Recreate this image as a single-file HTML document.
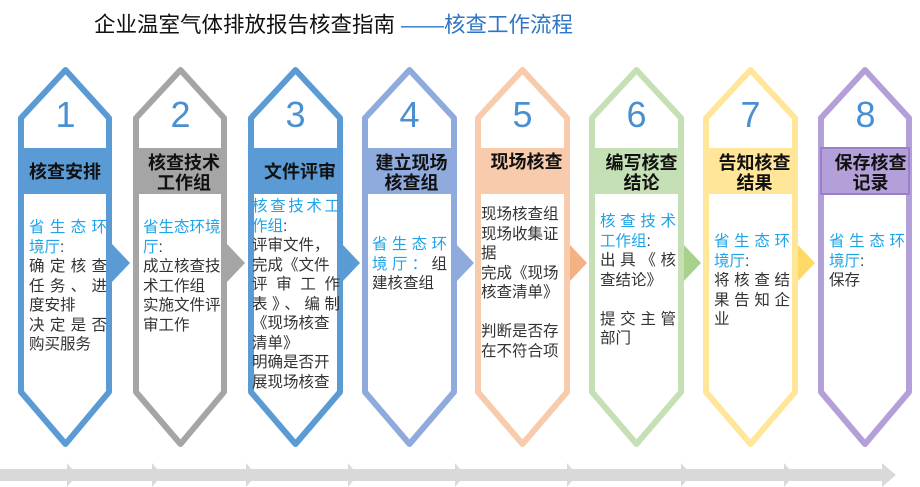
<!DOCTYPE html>
<html><head><meta charset="utf-8"><style>
body{margin:0;width:920px;height:487px;background:#fff;position:relative;overflow:hidden;font-family:"Liberation Sans","Noto Sans CJK SC",sans-serif}
.a{position:absolute}
.t{position:absolute;font-size:15.5px;line-height:19.5px;color:#333}
.t div{white-space:nowrap}
.j{text-align:justify;text-align-last:justify;white-space:normal!important}
.b{color:#1fa4e8}
.h{position:absolute;font-weight:bold;font-size:18px;line-height:20px;text-align:center;color:#111;white-space:nowrap}
.n{position:absolute;font-size:36px;color:#4a8fd0;text-align:center;width:95px;top:95px;line-height:40px}
</style></head><body>
<div class="a" style="left:94px;top:8px;font-size:21.5px;color:#111;white-space:nowrap">企业温室气体排放报告核查指南 <span style="color:#2e75c6">——核查工作流程</span></div>
<svg class="a" style="left:0;top:0" width="920" height="487">
<g stroke-linejoin="round">
<!-- bottom bar -->
<rect x="0" y="469" width="884" height="12" fill="#d9d9d9"/>
<g fill="#d9d9d9">
<polygon points="67,463 77,475 67,487"/><polygon points="152,463 162,475 152,487"/><polygon points="246,463 256,475 246,487"/><polygon points="348,463 358,475 348,487"/><polygon points="455,463 465,475 455,487"/><polygon points="567,463 577,475 567,487"/><polygon points="681,463 691,475 681,487"/><polygon points="784,463 794,475 784,487"/><polygon points="882,463 896,475 882,487"/>
</g>
<!-- arrows -->
<polygon points="112,244 130,263 112,282" fill="#5b9bd5"/>
<polygon points="227,244 245,263 227,282" fill="#a5a5a5"/>
<polygon points="342,244 360,263 342,282" fill="#5b9bd5"/>
<polygon points="456,244 474,263 456,282" fill="#8faadc"/>
<polygon points="569,244 587,263 569,282" fill="#f4b183"/>
<polygon points="683,244 701,263 683,282" fill="#a9d18e"/>
<polygon points="797,244 815,263 797,282" fill="#ffd966"/>
<!-- cards -->
<g stroke-width="6">
<path d="M65.5,70 L109,118 L109,392 L65.5,444 L21,392 L21,118 Z" fill="#fff" stroke="#5b9bd5"/>
<rect x="21" y="148" width="88" height="46" fill="#5b9bd5" stroke="none"/>
<path d="M180.5,70 L224,118 L224,392 L180.5,444 L136,392 L136,118 Z" fill="#fff" stroke="#a5a5a5"/>
<rect x="136" y="148" width="88" height="46" fill="#a5a5a5" stroke="none"/>
<path d="M295.5,70 L340,118 L340,392 L295.5,444 L251,392 L251,118 Z" fill="#fff" stroke="#5b9bd5"/>
<rect x="251" y="148" width="89" height="46" fill="#5b9bd5" stroke="none"/>
<path d="M409.5,70 L454,118 L454,392 L409.5,444 L365,392 L365,118 Z" fill="#fff" stroke="#8faadc"/>
<rect x="365" y="148" width="89" height="46" fill="#8faadc" stroke="none"/>
<path d="M522.5,70 L567,118 L567,392 L522.5,444 L478,392 L478,118 Z" fill="#fff" stroke="#f8cbad"/>
<rect x="478" y="148" width="89" height="46" fill="#f8cbad" stroke="none"/>
<path d="M636.5,70 L681,118 L681,392 L636.5,444 L592,392 L592,118 Z" fill="#fff" stroke="#c5e0b4"/>
<rect x="592" y="148" width="89" height="46" fill="#c5e0b4" stroke="none"/>
<path d="M750.5,70 L795,118 L795,392 L750.5,444 L706,392 L706,118 Z" fill="#fff" stroke="#ffe699"/>
<rect x="706" y="148" width="89" height="46" fill="#ffe699" stroke="none"/>
<path d="M865,70 L909,118 L909,392 L865,444 L821,392 L821,118 Z" fill="#fff" stroke="#b4a0d8"/>
<rect x="821" y="148" width="88" height="46" fill="#b4a0d8" stroke="#9c7fcb" stroke-width="2"/>
</g>
</g>
</svg>
<div class="n" style="left:18px">1</div>
<div class="n" style="left:133px">2</div>
<div class="n" style="left:248px">3</div>
<div class="n" style="left:362px">4</div>
<div class="n" style="left:475px">5</div>
<div class="n" style="left:589px">6</div>
<div class="n" style="left:703px">7</div>
<div class="n" style="left:818px">8</div>

<div class="h" style="left:21px;width:88px;top:162px">核查安排</div>
<div class="h" style="left:140px;width:88px;top:153px">核查技术<br>工作组</div>
<div class="h" style="left:256px;width:88px;top:162px">文件评审</div>
<div class="h" style="left:367px;width:89px;top:153px">建立现场<br>核查组</div>
<div class="h" style="left:482px;width:89px;top:152px">现场核查</div>
<div class="h" style="left:597px;width:89px;top:153px">编写核查<br>结论</div>
<div class="h" style="left:710px;width:89px;top:153px">告知核查<br>结果</div>
<div class="h" style="left:826px;width:89px;top:153px">保存核查<br>记录</div>

<div class="t" style="left:29px;top:218px;width:78px">
<div class="j b">省生态环</div><div><span class="b">境厅</span>:</div><div class="j">确定核查</div><div class="j">任务、进</div><div>度安排</div><div class="j">决定是否</div><div>购买服务</div></div>
<div class="t" style="left:143px;top:218px;width:80px">
<div class="b">省生态环境</div><div><span class="b">厅</span>:</div><div>成立核查技</div><div>术工作组</div><div>实施文件评</div><div>审工作</div></div>
<div class="t" style="left:252px;top:197px;width:88px">
<div class="j b">核查技术工</div><div><span class="b">作组</span>:</div><div>评审文件，</div><div>完成《文件</div><div class="j">评审工作</div><div class="j">表》、编制</div><div>《现场核查</div><div>清单》</div><div>明确是否开</div><div>展现场核查</div></div>
<div class="t" style="left:372px;top:235px;width:75px">
<div class="j b">省生态环</div><div class="j"><span class="b">境厅：</span>组</div><div>建核查组</div></div>
<div class="t" style="left:481px;top:205px;width:85px">
<div>现场核查组</div><div>现场收集证</div><div>据</div><div>完成《现场</div><div>核查清单》</div><div>&nbsp;</div><div>判断是否存</div><div>在不符合项</div></div>
<div class="t" style="left:600px;top:212px;width:76px">
<div class="j b">核查技术</div><div><span class="b">工作组</span>:</div><div class="j">出具《核</div><div>查结论》</div><div>&nbsp;</div><div class="j">提交主管</div><div>部门</div></div>
<div class="t" style="left:714px;top:232px;width:76px">
<div class="j b">省生态环</div><div><span class="b">境厅</span>:</div><div class="j">将核查结</div><div class="j">果告知企</div><div>业</div></div>
<div class="t" style="left:829px;top:232px;width:76px">
<div class="j b">省生态环</div><div><span class="b">境厅</span>:</div><div>保存</div></div>
</body></html>
